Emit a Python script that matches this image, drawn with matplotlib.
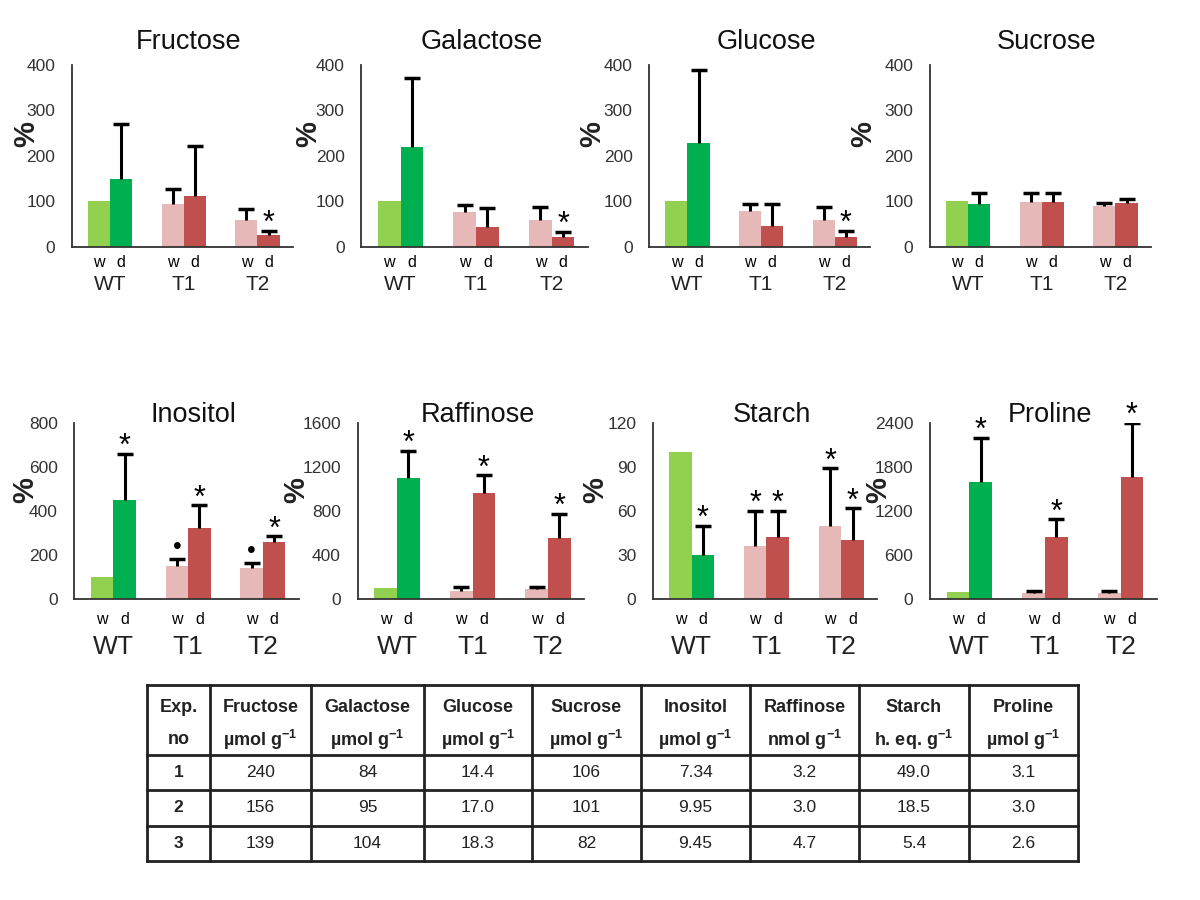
import matplotlib
matplotlib.use('Agg')
import matplotlib.pyplot as plt
import numpy as np

plt.rcParams['font.family'] = ['Liberation Sans', 'DejaVu Sans']
plt.rcParams['mathtext.fontset'] = 'custom'
plt.rcParams['mathtext.rm'] = 'Liberation Sans'
plt.rcParams['mathtext.bf'] = 'Liberation Sans:bold'

groups = ['WT', 'T1', 'T2']
conditions = ['w', 'd']

# % of WT well-watered; err = upper error bar length
fructose_w = [100, 94, 60]
fructose_w_err = [0, 33, 23]
fructose_d = [150, 113, 26]
fructose_d_err = [120, 108, 9]

galactose_w = [100, 77, 60]
galactose_w_err = [0, 15, 28]
galactose_d = [219, 44, 21]
galactose_d_err = [152, 41, 12]

glucose_w = [100, 79, 60]
glucose_w_err = [0, 16, 27]
glucose_d = [229, 46, 21]
glucose_d_err = [159, 49, 15]

sucrose_w = [100, 99, 91]
sucrose_w_err = [0, 20, 5]
sucrose_d = [94, 99, 96]
sucrose_d_err = [25, 20, 9]

inositol_w = [100, 151, 140]
inositol_w_err = [0, 30, 23]
inositol_d = [450, 323, 260]
inositol_d_err = [210, 104, 25]

raffinose_w = [100, 75, 91]
raffinose_w_err = [0, 37, 21]
raffinose_d = [1096, 960, 555]
raffinose_d_err = [251, 163, 218]

starch_w = [100, 36, 50]
starch_w_err = [0, 24, 39]
starch_d = [30, 42, 40]
starch_d_err = [20, 18, 22]

proline_w = [100, 87, 78]
proline_w_err = [0, 28, 28]
proline_d = [1600, 846, 1669]
proline_d_err = [598, 239, 731]

# significance marks above bars
no_marks = ['', '', '']
fructose_d_marks = ['', '', '*']
galactose_d_marks = ['', '', '*']
glucose_d_marks = ['', '', '*']
inositol_w_marks = ['', '•', '•']
all_stars = ['*', '*', '*']
starch_w_marks = ['', '*', '*']

# table
table_header = ['Exp.', 'Fructose', 'Galactose', 'Glucose', 'Sucrose',
                'Inositol', 'Raffinose', 'Starch', 'Proline']
table_units = ['no', 'µmol g', 'µmol g', 'µmol g', 'µmol g',
               'µmol g', 'nmol g', 'h. eq. g', 'µmol g']
table_rows = [
    ['1', '240', '84', '14.4', '106', '7.34', '3.2', '49.0', '3.1'],
    ['2', '156', '95', '17.0', '101', '9.95', '3.0', '18.5', '3.0'],
    ['3', '139', '104', '18.3', '82', '9.45', '4.7', '5.4', '2.6'],
]

light_green = '#92D050'
green = '#00B050'
pink = '#E6B9B8'
red = '#C0504D'

fig = plt.figure(figsize=(12, 9), dpi=100)


def draw_panel(rect, name, w, w_err, d, d_err, w_marks, d_marks, ymax, ystep, row, lab_x):
    ax = fig.add_axes(rect)
    x = np.arange(len(groups))
    bw = 0.3
    ax.bar(x - bw / 2, w, bw, color=[light_green, pink, pink], zorder=2)
    ax.bar(x + bw / 2, d, bw, color=[green, red, red], zorder=2)
    for xs, vals, errs, marks in [(x - bw / 2, w, w_err, w_marks), (x + bw / 2, d, d_err, d_marks)]:
        for xi, v, e, m in zip(xs, vals, errs, marks):
            if e > 0:
                ax.plot([xi, xi], [v, v + e], color='black', lw=2.2, zorder=3, solid_capstyle='butt')
                ax.plot([xi], [v + e], marker='_', ms=11, mew=2.5, color='black', zorder=3)
            if m == '*':
                ax.annotate('*', (xi, v + e), xytext=(0, -6), textcoords='offset points',
                            ha='center', va='bottom', fontsize=22, color='black')
            elif m:
                ax.annotate(m, (xi, v + e), xytext=(0, 0), textcoords='offset points',
                            ha='center', va='bottom', fontsize=18, color='black')
    ax.set_xlim(-0.52, 2.48)
    ax.set_ylim(0, ymax)
    ax.set_yticks(np.arange(0, ymax + 1, ystep))
    ax.set_xticks([])
    for s in ['top', 'right']:
        ax.spines[s].set_visible(False)
    for s in ['left', 'bottom']:
        ax.spines[s].set_color('#333333')
        ax.spines[s].set_linewidth(1.3)
    ax.tick_params(axis='y', length=0, labelsize=12.5, colors='#333333', pad=12)
    ax.set_ylabel('%', fontsize=21, fontweight='bold', color='#222222')
    ax.yaxis.set_label_coords(lab_x, 0.62)
    ax.text(0.53, 1.0 + (0.125 if row == 0 else 0.045), name, transform=ax.transAxes,
            ha='center', va='center', fontsize=19.5, color='#111111')
    trans = ax.get_xaxis_transform()
    if row == 0:
        cy, gy, gfs = -0.085, -0.205, 15
    else:
        cy, gy, gfs = -0.115, -0.27, 19
    for xi, g in zip(x, groups):
        ax.text(xi - bw / 2, cy, conditions[0], transform=trans, ha='center', va='center', fontsize=11.5)
        ax.text(xi + bw / 2, cy, conditions[1], transform=trans, ha='center', va='center', fontsize=11.5)
        ax.text(xi, gy, g, transform=trans, ha='center', va='center', fontsize=gfs, color='#222222')
    return ax


top_b, top_h = 0.7256, 0.2022
bot_b, bot_h = 0.3344, 0.1956
draw_panel([0.060, top_b, 0.184, top_h], 'Fructose', fructose_w, fructose_w_err, fructose_d, fructose_d_err,
           no_marks, fructose_d_marks, 400, 100, 0, -0.145)
draw_panel([0.301, top_b, 0.189, top_h], 'Galactose', galactose_w, galactose_w_err, galactose_d, galactose_d_err,
           no_marks, galactose_d_marks, 400, 100, 0, -0.17)
draw_panel([0.541, top_b, 0.184, top_h], 'Glucose', glucose_w, glucose_w_err, glucose_d, glucose_d_err,
           no_marks, glucose_d_marks, 400, 100, 0, -0.195)
draw_panel([0.775, top_b, 0.184, top_h], 'Sucrose', sucrose_w, sucrose_w_err, sucrose_d, sucrose_d_err,
           no_marks, no_marks, 400, 100, 0, -0.24)
draw_panel([0.062, bot_b, 0.187, bot_h], 'Inositol', inositol_w, inositol_w_err, inositol_d, inositol_d_err,
           inositol_w_marks, all_stars, 800, 200, 1, -0.155)
draw_panel([0.298, bot_b, 0.189, bot_h], 'Raffinose', raffinose_w, raffinose_w_err, raffinose_d, raffinose_d_err,
           no_marks, all_stars, 1600, 400, 1, -0.21)
draw_panel([0.544, bot_b, 0.187, bot_h], 'Starch', starch_w, starch_w_err, starch_d, starch_d_err,
           starch_w_marks, all_stars, 120, 30, 1, -0.195)
draw_panel([0.775, bot_b, 0.189, bot_h], 'Proline', proline_w, proline_w_err, proline_d, proline_d_err,
           no_marks, all_stars, 2400, 600, 1, -0.165)

# table drawn in pixel-like coordinates
col_edges = [147, 210, 311, 424, 532, 641, 750, 859, 969, 1078]
row_edges = [685, 755, 790, 826, 861]
tax = fig.add_axes([0, 0, 1, 1])
tax.set_xlim(0, 1200)
tax.set_ylim(900, 0)
tax.axis('off')
for xe in col_edges:
    tax.plot([xe, xe], [row_edges[0], row_edges[-1]], color='#222222', lw=2)
for ye in row_edges:
    tax.plot([col_edges[0], col_edges[-1]], [ye, ye], color='#222222', lw=2)
for i, (h, u) in enumerate(zip(table_header, table_units)):
    xc = (col_edges[i] + col_edges[i + 1]) / 2
    tax.text(xc, 707, h, ha='center', va='center', fontsize=13, fontweight='bold', color='#222222')
    unit = u if i == 0 else u + r'$^{\mathbf{-1}}$'
    tax.text(xc, 740, unit, ha='center', va='center', fontsize=13, fontweight='bold', color='#222222')
for r, rowvals in enumerate(table_rows):
    yc = (row_edges[r + 1] + row_edges[r + 2]) / 2
    for i, val in enumerate(rowvals):
        xc = (col_edges[i] + col_edges[i + 1]) / 2
        tax.text(xc, yc, val, ha='center', va='center', fontsize=12.5,
                 fontweight='bold' if i == 0 else 'normal', color='#222222')

fig.savefig('out.png', dpi=100, facecolor='white')
